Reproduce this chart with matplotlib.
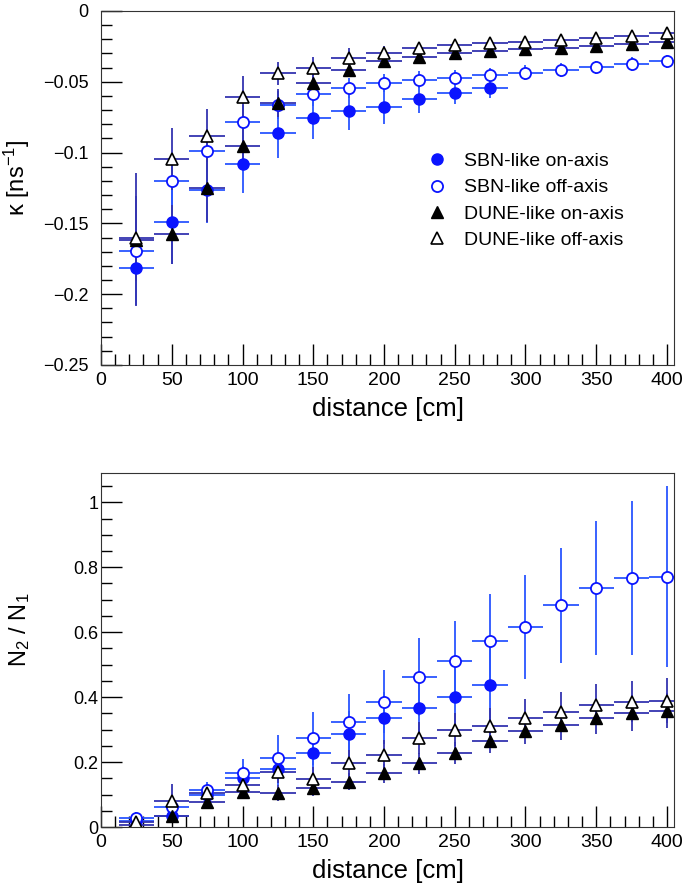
import matplotlib
matplotlib.use('Agg')
import matplotlib.pyplot as plt
from matplotlib.ticker import MultipleLocator

plt.rcParams['font.family'] = ['Liberation Sans', 'DejaVu Sans']
plt.rcParams['mathtext.fontset'] = 'custom'
plt.rcParams['mathtext.rm'] = 'Liberation Sans'
plt.rcParams['mathtext.default'] = 'regular'

# distance bins (cm)
dist = [25, 50, 75, 100, 125, 150, 175, 200, 225, 250, 275, 300, 325, 350, 375, 400]
dist_sbn_on = dist[:11]
bin_half = 12.5

# top: kappa [ns^-1]
k_sbn_on = [-0.1817, -0.1487, -0.1264, -0.108, -0.0859, -0.0753, -0.0706, -0.0675, -0.0621, -0.0577, -0.0546]
k_sbn_on_err = [0.026, 0.030, 0.023, 0.0207, 0.018, 0.0153, 0.0134, 0.0122, 0.0101, 0.0082, 0.007]
k_sbn_off = [-0.1692, -0.120, -0.0986, -0.0781, -0.0664, -0.0588, -0.0546, -0.051, -0.0487, -0.047,
             -0.0454, -0.0435, -0.0417, -0.0398, -0.0374, -0.0355]
k_sbn_off_err = [0.02, 0.02, 0.015, 0.012, 0.01, 0.008, 0.007, 0.0065, 0.006, 0.0055, 0.005, 0.0056,
                 0.005, 0.0048, 0.0047, 0.0047]
k_dune_on = [-0.1617, -0.1577, -0.1252, -0.0953, -0.0652, -0.051, -0.0417, -0.0353, -0.0327, -0.0299,
             -0.028, -0.027, -0.0259, -0.0247, -0.0235, -0.0219]
k_dune_on_err = [0.047, 0.021, 0.024, 0.015, 0.01, 0.006, 0.005, 0.004, 0.0035, 0.0035, 0.003, 0.003,
                 0.003, 0.003, 0.003, 0.003]
k_dune_off = [-0.1605, -0.1047, -0.088, -0.0605, -0.044, -0.0405, -0.033, -0.0294, -0.0259, -0.024,
              -0.0229, -0.0217, -0.0205, -0.0193, -0.0177, -0.0157]
k_dune_off_err = [0.03, 0.022, 0.019, 0.0146, 0.0082, 0.0082, 0.0066, 0.005, 0.004, 0.004, 0.0035,
                  0.0035, 0.003, 0.003, 0.003, 0.003]

# bottom: N2 / N1
r_sbn_on = [0.018, 0.034, 0.098, 0.152, 0.18, 0.227, 0.286, 0.336, 0.368, 0.401, 0.436]
r_sbn_on_err = [0.015, 0.02, 0.02, 0.035, 0.05, 0.06, 0.07, 0.08, 0.09, 0.1, 0.12]
r_sbn_off = [0.027, 0.063, 0.114, 0.165, 0.214, 0.273, 0.322, 0.386, 0.462, 0.51, 0.573, 0.616,
             0.683, 0.736, 0.767, 0.771]
r_sbn_off_err = [0.02, 0.03, 0.026, 0.046, 0.07, 0.082, 0.089, 0.097, 0.119, 0.124, 0.146, 0.159,
                 0.177, 0.207, 0.238, 0.278]
r_dune_on = [0.006, 0.034, 0.078, 0.109, 0.104, 0.121, 0.139, 0.165, 0.196, 0.229, 0.265, 0.295,
             0.314, 0.336, 0.352, 0.358]
r_dune_on_err = [0.01, 0.015, 0.02, 0.022, 0.024, 0.026, 0.026, 0.03, 0.032, 0.034, 0.036, 0.04,
                 0.045, 0.05, 0.055, 0.054]
r_dune_off = [0.016, 0.081, 0.104, 0.129, 0.17, 0.147, 0.198, 0.222, 0.274, 0.3, 0.312, 0.336,
              0.355, 0.377, 0.386, 0.389]
r_dune_off_err = [0.015, 0.05, 0.025, 0.03, 0.035, 0.038, 0.04, 0.045, 0.05, 0.052, 0.055, 0.058,
                  0.06, 0.062, 0.064, 0.069]

labels = ['SBN-like on-axis', 'SBN-like off-axis', 'DUNE-like on-axis', 'DUNE-like off-axis']

blue = '#0a14ff'
sbn_err = '#2a55ff'
dune_err = '#3434b0'

fig = plt.figure(figsize=(6.85, 8.85), dpi=100)
ax1 = fig.add_axes([0.1475, 0.5876, 0.8365, 0.4])
ax2 = fig.add_axes([0.1475, 0.0655, 0.8365, 0.4])


def draw(ax, y1, e1, y2, e2, y3, e3, y4, e4):
    kw = dict(xerr=bin_half, linestyle='none', elinewidth=1.3, capsize=0, markersize=8)
    ax.errorbar(dist_sbn_on, y1, yerr=e1, fmt='o', color=blue, ecolor=sbn_err, **kw)
    ax.errorbar(dist, y2, yerr=e2, fmt='o', color=blue, mfc='white', mec=blue, mew=1.3,
                ecolor=sbn_err, **kw)
    ax.errorbar(dist, y3, yerr=e3, fmt='^', color='black', ecolor=dune_err, **kw)
    ax.errorbar(dist, y4, yerr=e4, fmt='^', color='black', mfc='white', mec='black', mew=1.2,
                ecolor=dune_err, **kw)


def style(ax, ypad):
    ax.set_xlim(0, 405)
    ax.xaxis.set_major_locator(MultipleLocator(50))
    ax.xaxis.set_minor_locator(MultipleLocator(10))
    ax.tick_params(which='both', direction='in', top=False, right=False)
    ax.tick_params(which='major', length=15, width=1)
    ax.tick_params(which='minor', length=8, width=1)
    ax.tick_params(axis='x', pad=5, labelsize=14)
    ax.tick_params(axis='y', pad=ypad, labelsize=13)
    for s in ax.spines.values():
        s.set_color('#333333')
    ax.set_xlabel('distance [cm]', fontsize=18.5, labelpad=6)


draw(ax1, k_sbn_on, k_sbn_on_err, k_sbn_off, k_sbn_off_err,
     k_dune_on, k_dune_on_err, k_dune_off, k_dune_off_err)
style(ax1, 9)
ax1.set_ylim(-0.25, 0)
ax1.yaxis.set_major_locator(MultipleLocator(0.05))
ax1.yaxis.set_minor_locator(MultipleLocator(0.01))
ax1.yaxis.set_major_formatter(plt.FuncFormatter(lambda v, p: '0' if abs(v) < 1e-9 else f'{v:g}'.replace('-', '\u2212')))
ax1.set_ylabel('κ [ns$^{-1}$]', fontsize=17)
ax1.yaxis.set_label_coords(-0.12, 0.528)

leg_handles = [
    plt.Line2D([], [], linestyle='none', marker='o', color=blue, markersize=8),
    plt.Line2D([], [], linestyle='none', marker='o', mfc='white', mec=blue, mew=1.3, markersize=8),
    plt.Line2D([], [], linestyle='none', marker='^', color='black', markersize=8),
    plt.Line2D([], [], linestyle='none', marker='^', mfc='white', mec='black', mew=1.2, markersize=8),
]
ax1.legend(leg_handles, labels, loc='upper left', bbox_to_anchor=(0.535, 0.65), frameon=False,
           fontsize=14, handletextpad=0.8, labelspacing=0.45, handlelength=1.2)

draw(ax2, r_sbn_on, r_sbn_on_err, r_sbn_off, r_sbn_off_err,
     r_dune_on, r_dune_on_err, r_dune_off, r_dune_off_err)
style(ax2, 2)
ax2.set_ylim(0, 1.09)
ax2.yaxis.set_major_locator(MultipleLocator(0.2))
ax2.yaxis.set_minor_locator(MultipleLocator(0.05))
ax2.yaxis.set_major_formatter(plt.FuncFormatter(lambda v, p: f'{v:g}'))
ax2.set_ylabel('N$_2$ / N$_1$', fontsize=17)
ax2.yaxis.set_label_coords(-0.12, 0.556)

fig.savefig('out.png', dpi=100)
